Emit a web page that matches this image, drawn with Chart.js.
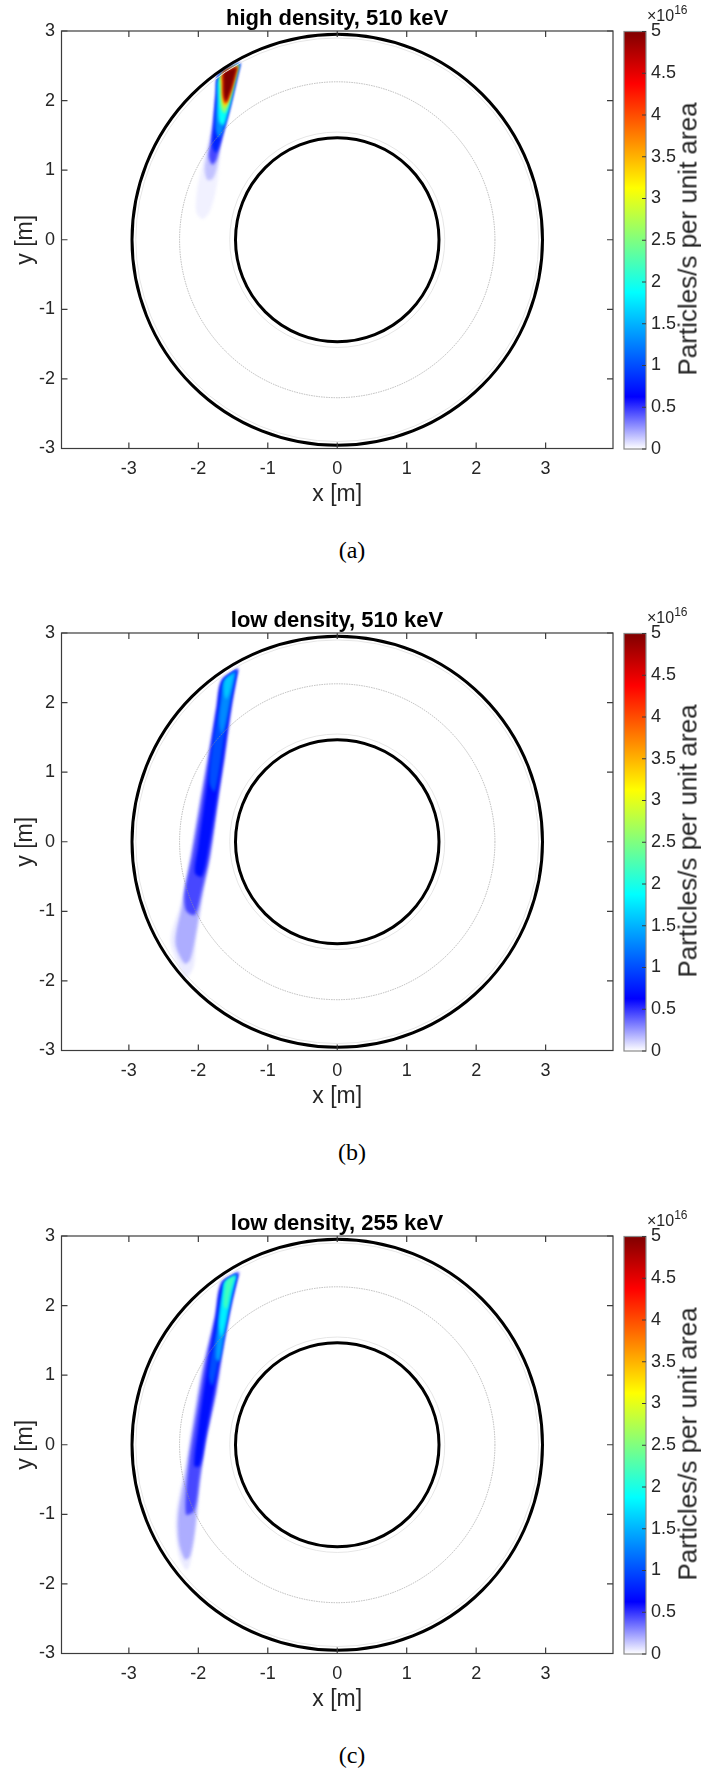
<!DOCTYPE html>
<html>
<head>
<meta charset="utf-8">
<script src="https://cdn.jsdelivr.net/npm/chart.js@4.4.1/dist/chart.umd.min.js"></script>
<style>
  body { margin:0; background:#fff; width:701px; height:1769px; position:relative; overflow:hidden;
         font-family:"Liberation Sans", Arial, sans-serif; color:#262626; }
  .panel { position:absolute; left:0; width:701px; height:602px; }
  .main { position:absolute; left:0; top:0; }
  .cbar { position:absolute; left:620px; top:0; }
  .ttl { position:absolute; left:337px; top:18px; transform:translate(-50%,-50%); font-weight:bold;
         font-size:22px; white-space:nowrap; color:#000; }
  .exp { position:absolute; left:647px; top:4px; font-size:16px; white-space:nowrap; }
  .exp sup { font-size:12px; position:relative; top:-1px; }
  .cblab { position:absolute; left:688px; top:239px; transform:translate(-50%,-50%) rotate(-90deg);
           font-size:26px; white-space:nowrap; }
  .cap { position:absolute; left:352px; top:550px; transform:translate(-50%,-50%);
         font-family:"Liberation Serif", serif; font-size:24px; color:#000; }
</style>
</head>
<body>
<script>
// ---- data ----
const panelTitles = ['high density, 510 keV', 'low density, 510 keV', 'low density, 255 keV'];
const panelCaptions = ['(a)', '(b)', '(c)'];
const xTicks = [-3, -2, -1, 0, 1, 2, 3];
const yTicks = [-3, -2, -1, 0, 1, 2, 3];
const cbTicks = [0, 0.5, 1, 1.5, 2, 2.5, 3, 3.5, 4, 4.5, 5];
const xRange = [-3.97, 3.97];
const yRange = [-3, 3];
const cbRange = [0, 5];
const cbLabel = 'Particles/s per unit area';

// vessel geometry [m]
const wallRadii = [1.465, 2.955];
const midRadii = [2.27];
const haloRadii = [1.548, 2.9];

// colormap (units of 1e16)
const cmapStops = [0, 0.625, 1.875, 3.125, 4.375, 5];
const cmapRGB = [[255,255,255],[0,0,255],[0,255,255],[255,255,0],[255,0,0],[128,0,0]];

// beam density contours, [x, y] in m, one level per polygon
const levelsA = [0.035, 0.15, 0.45, 0.8, 1.3, 1.9, 2.6, 3.3, 4.1, 5.0];
const contoursA = [
  [[-1.39,2.55],[-1.47,2.2],[-1.55,1.9],[-1.63,1.6],[-1.68,1.3],[-1.71,0.95],[-1.76,0.65],[-1.84,0.4],[-1.94,0.3],[-2.03,0.4],[-2.02,0.7],[-1.96,1.0],[-1.89,1.3],[-1.82,1.6],[-1.76,1.95],[-1.73,2.25],[-1.71,2.38]],
  [[-1.39,2.55],[-1.47,2.2],[-1.55,1.88],[-1.63,1.58],[-1.69,1.3],[-1.73,1.05],[-1.79,0.88],[-1.87,0.86],[-1.91,1.02],[-1.87,1.25],[-1.82,1.5],[-1.77,1.85],[-1.74,2.2],[-1.71,2.37]],
  [[-1.395,2.545],[-1.475,2.2],[-1.555,1.87],[-1.635,1.57],[-1.70,1.3],[-1.74,1.15],[-1.80,1.08],[-1.85,1.2],[-1.82,1.4],[-1.78,1.7],[-1.74,2.15],[-1.71,2.37]],
  [[-1.40,2.54],[-1.48,2.2],[-1.56,1.86],[-1.645,1.55],[-1.70,1.35],[-1.75,1.25],[-1.80,1.35],[-1.78,1.65],[-1.74,2.1],[-1.705,2.36]],
  [[-1.405,2.535],[-1.485,2.2],[-1.565,1.85],[-1.65,1.55],[-1.71,1.47],[-1.75,1.6],[-1.735,2.0],[-1.70,2.35]],
  [[-1.41,2.53],[-1.49,2.2],[-1.57,1.86],[-1.64,1.65],[-1.70,1.7],[-1.715,2.0],[-1.69,2.34]],
  [[-1.42,2.52],[-1.50,2.2],[-1.565,1.95],[-1.62,1.82],[-1.675,1.9],[-1.685,2.15],[-1.675,2.36]],
  [[-1.425,2.51],[-1.505,2.2],[-1.57,1.98],[-1.615,1.9],[-1.655,2.0],[-1.665,2.2],[-1.66,2.38]],
  [[-1.43,2.5],[-1.51,2.2],[-1.575,2.0],[-1.61,1.95],[-1.645,2.05],[-1.65,2.25],[-1.645,2.4]],
  [[-1.435,2.49],[-1.515,2.2],[-1.58,2.02],[-1.605,1.98],[-1.635,2.08],[-1.64,2.28],[-1.63,2.41]]
];

const levelsB = [0.05, 0.2, 0.45, 0.7, 1.0, 1.3, 1.6];
const contoursB = [
  [[-1.41,2.51],[-1.51,1.95],[-1.61,1.25],[-1.70,0.65],[-1.82,-0.2],[-1.92,-0.7],[-2.03,-1.4],[-2.07,-1.8],[-2.18,-1.95],[-2.30,-1.75],[-2.40,-1.4],[-2.26,-0.9],[-2.12,-0.2],[-2.0,0.5],[-1.87,1.2],[-1.75,1.95],[-1.67,2.33]],
  [[-1.42,2.50],[-1.52,1.94],[-1.62,1.22],[-1.71,0.64],[-1.83,-0.22],[-1.93,-0.7],[-2.04,-1.35],[-2.12,-1.7],[-2.2,-1.75],[-2.33,-1.45],[-2.24,-0.94],[-2.11,-0.22],[-1.99,0.5],[-1.86,1.22],[-1.74,1.94],[-1.665,2.32]],
  [[-1.43,2.49],[-1.53,1.94],[-1.63,1.22],[-1.72,0.64],[-1.84,-0.2],[-1.95,-0.7],[-2.05,-1.05],[-2.17,-1.0],[-2.20,-0.75],[-2.09,-0.2],[-1.97,0.5],[-1.85,1.22],[-1.73,1.94],[-1.66,2.32]],
  [[-1.44,2.48],[-1.54,1.94],[-1.64,1.22],[-1.73,0.62],[-1.86,-0.15],[-1.95,-0.5],[-2.05,-0.45],[-2.0,-0.05],[-1.93,0.45],[-1.83,1.15],[-1.72,1.94],[-1.65,2.31]],
  [[-1.45,2.47],[-1.55,1.95],[-1.64,1.4],[-1.71,0.95],[-1.77,0.72],[-1.84,0.85],[-1.80,1.35],[-1.70,1.95],[-1.64,2.3]],
  [[-1.46,2.46],[-1.55,2.0],[-1.62,1.65],[-1.67,1.55],[-1.70,1.75],[-1.66,2.1],[-1.63,2.3]],
  [[-1.48,2.43],[-1.55,2.15],[-1.60,2.05],[-1.63,2.15],[-1.615,2.33]]
];

const levelsC = [0.05, 0.2, 0.45, 0.7, 1.0, 1.4, 1.8, 2.2];
const contoursC = [
  [[-1.40,2.50],[-1.51,2.02],[-1.63,1.40],[-1.725,0.78],[-1.87,0.11],[-1.965,-0.51],[-2.04,-1.23],[-2.11,-1.68],[-2.17,-1.80],[-2.28,-1.6],[-2.33,-1.05],[-2.19,-0.3],[-2.03,0.65],[-1.94,1.13],[-1.77,1.85],[-1.67,2.36]],
  [[-1.41,2.49],[-1.52,2.02],[-1.64,1.40],[-1.735,0.78],[-1.88,0.11],[-1.976,-0.51],[-2.05,-1.23],[-2.12,-1.6],[-2.19,-1.65],[-2.28,-1.4],[-2.29,-1.0],[-2.17,-0.3],[-2.02,0.65],[-1.93,1.13],[-1.76,1.85],[-1.665,2.35]],
  [[-1.42,2.48],[-1.53,2.02],[-1.65,1.40],[-1.75,0.78],[-1.89,0.11],[-1.98,-0.45],[-2.06,-0.95],[-2.18,-1.0],[-2.14,-0.3],[-2.0,0.6],[-1.91,1.13],[-1.75,1.85],[-1.66,2.33]],
  [[-1.43,2.47],[-1.54,2.02],[-1.66,1.40],[-1.77,0.78],[-1.90,0.1],[-1.98,-0.3],[-2.06,-0.3],[-2.0,0.25],[-1.89,1.0],[-1.74,1.85],[-1.65,2.32]],
  [[-1.44,2.46],[-1.55,2.0],[-1.66,1.5],[-1.74,1.05],[-1.80,0.85],[-1.85,1.0],[-1.75,1.65],[-1.64,2.3]],
  [[-1.45,2.45],[-1.54,2.05],[-1.63,1.55],[-1.70,1.2],[-1.75,1.25],[-1.71,1.7],[-1.64,2.2],[-1.625,2.33]],
  [[-1.455,2.445],[-1.54,2.1],[-1.62,1.7],[-1.67,1.55],[-1.70,1.75],[-1.64,2.25],[-1.615,2.34]],
  [[-1.465,2.435],[-1.54,2.2],[-1.595,1.95],[-1.635,2.0],[-1.615,2.28],[-1.595,2.36]]
];

const beamLevels = [levelsA, levelsB, levelsC];
const beamContours = [contoursA, contoursB, contoursC];

// ---- layout ----
const panelTops = [0, 602, 1205];
const axisColor = '#262626';
const tickFont = {size: 18};
const labelFont = {size: 23};

Chart.defaults.font.family = '"Liberation Sans", Arial, sans-serif';
Chart.defaults.color = axisColor;

function cmap(v) {
  for (let i = 1; i < cmapStops.length; i++) {
    if (v <= cmapStops[i]) {
      const t = (v - cmapStops[i-1]) / (cmapStops[i] - cmapStops[i-1]);
      const a = cmapRGB[i-1], b = cmapRGB[i];
      return 'rgb(' + a.map((c, k) => Math.round(c + (b[k] - c) * t)).join(',') + ')';
    }
  }
  return 'rgb(' + cmapRGB[cmapRGB.length-1].join(',') + ')';
}

const blurPlugin = {
  id: 'blur',
  beforeDatasetsDraw(chart) { chart.ctx.save(); chart.ctx.filter = 'blur(1.8px)'; },
  afterDatasetsDraw(chart) { chart.ctx.restore(); }
};

const ringsPlugin = {
  id: 'rings',
  afterDatasetsDraw(chart) {
    const {ctx, chartArea: a, scales: {x, y}} = chart;
    const cx = x.getPixelForValue(0), cy = y.getPixelForValue(0);
    const ring = (r, color, lw, dash) => {
      const rx = x.getPixelForValue(r) - cx, ry = cy - y.getPixelForValue(r);
      ctx.beginPath();
      ctx.setLineDash(dash || []);
      ctx.strokeStyle = color;
      ctx.lineWidth = lw;
      ctx.ellipse(cx, cy, rx, ry, 0, 0, Math.PI * 2);
      ctx.stroke();
    };
    ctx.save();
    ctx.beginPath();
    ctx.rect(a.left, a.top, a.width, a.height);
    ctx.clip();
    haloRadii.forEach(r => ring(r, '#e6e6e6', 1));
    midRadii.forEach(r => ring(r, 'rgba(150,150,150,0.8)', 0.8, [1.5, 1]));
    wallRadii.forEach(r => ring(r, '#000', 3));
    ctx.restore();
  }
};

const framePlugin = {
  id: 'frame',
  afterDraw(chart) {
    const {ctx, chartArea: a, scales: {x, y}} = chart;
    const tl = 6;
    ctx.save();
    ctx.strokeStyle = '#3c3c3c';
    ctx.lineWidth = 1.2;
    ctx.strokeRect(a.left, a.top, a.width, a.height);
    ctx.beginPath();
    xTicks.forEach(v => {
      const px = x.getPixelForValue(v);
      ctx.moveTo(px, a.bottom); ctx.lineTo(px, a.bottom - tl);
      ctx.moveTo(px, a.top); ctx.lineTo(px, a.top + tl);
    });
    yTicks.forEach(v => {
      const py = y.getPixelForValue(v);
      ctx.moveTo(a.left, py); ctx.lineTo(a.left + tl, py);
      ctx.moveTo(a.right, py); ctx.lineTo(a.right - tl, py);
    });
    ctx.stroke();
    ctx.restore();
  }
};

const cbFramePlugin = {
  id: 'cbframe',
  afterDraw(chart) {
    const {ctx, chartArea: a, scales: {y}} = chart;
    ctx.save();
    ctx.strokeStyle = '#8a8a8a';
    ctx.lineWidth = 1.2;
    ctx.strokeRect(a.left, a.top, a.width, a.height);
    ctx.strokeStyle = '#3c3c3c';
    ctx.lineWidth = 1;
    ctx.beginPath();
    cbTicks.forEach(v => {
      const py = y.getPixelForValue(v);
      ctx.moveTo(a.right, py); ctx.lineTo(a.right - 4, py);
    });
    ctx.stroke();
    ctx.restore();
  }
};

function makePanel(i) {
  const panel = document.createElement('div');
  panel.className = 'panel';
  panel.style.top = panelTops[i] + 'px';
  document.body.appendChild(panel);

  const mainCanvas = document.createElement('canvas');
  mainCanvas.className = 'main';
  mainCanvas.width = 620; mainCanvas.height = 520;
  panel.appendChild(mainCanvas);

  const cbCanvas = document.createElement('canvas');
  cbCanvas.className = 'cbar';
  cbCanvas.width = 81; cbCanvas.height = 520;
  panel.appendChild(cbCanvas);

  const addText = (cls, html) => {
    const d = document.createElement('div');
    d.className = cls;
    d.innerHTML = html;
    panel.appendChild(d);
  };
  addText('ttl', panelTitles[i]);
  addText('exp', '&times;10<sup>16</sup>');
  addText('cblab', cbLabel);
  addText('cap', panelCaptions[i]);

  const levels = beamLevels[i];
  const datasets = beamContours[i].map((poly, k) => ({
    data: poly.concat([poly[0]]).map(([px, py]) => ({x: px, y: py})),
    backgroundColor: cmap(levels[k]),
    borderColor: 'rgba(0,0,0,0)',
    borderWidth: 1,
    pointRadius: 0,
    fill: 'shape',
    tension: 0.3,
    order: levels.length - k
  }));

  new Chart(mainCanvas, {
    type: 'line',
    data: {datasets},
    options: {
      responsive: false,
      animation: false,
      devicePixelRatio: 1,
      layout: {padding: {top: 31, right: 7, left: 0, bottom: 0}},
      plugins: {legend: {display: false}, tooltip: {enabled: false}},
      scales: {
        x: {
          type: 'linear', min: xRange[0], max: xRange[1],
          afterBuildTicks: s => { s.ticks = xTicks.map(v => ({value: v})); },
          afterFit: s => { s.height = 71.5; },
          grid: {display: false, drawTicks: false}, border: {display: false},
          ticks: {padding: 10, font: tickFont, color: axisColor, callback: v => String(v), maxRotation: 0, autoSkip: false},
          title: {display: true, text: 'x [m]', font: labelFont, color: axisColor, padding: {top: 0, bottom: 11.5}}
        },
        y: {
          type: 'linear', min: yRange[0], max: yRange[1],
          afterBuildTicks: s => { s.ticks = yTicks.map(v => ({value: v})); },
          afterFit: s => { s.width = 61.5; },
          grid: {display: false, drawTicks: false}, border: {display: false},
          ticks: {padding: 6.5, font: tickFont, color: axisColor, callback: v => String(v), autoSkip: false},
          title: {display: true, text: 'y [m]', font: labelFont, color: axisColor, padding: {top: 12, bottom: 0}}
        }
      }
    },
    plugins: [blurPlugin, ringsPlugin, framePlugin]
  });

  new Chart(cbCanvas, {
    type: 'bar',
    data: {
      labels: [''],
      datasets: [{
        data: [[cbRange[0], cbRange[1]]],
        barPercentage: 1,
        categoryPercentage: 1,
        borderWidth: 0,
        backgroundColor: ctx => {
          const area = ctx.chart.chartArea;
          if (!area) return cmap(2.5);
          const g = ctx.chart.ctx.createLinearGradient(0, area.bottom, 0, area.top);
          cmapStops.forEach((s, k) => g.addColorStop(s / cbRange[1], 'rgb(' + cmapRGB[k].join(',') + ')'));
          return g;
        }
      }]
    },
    options: {
      responsive: false,
      animation: false,
      devicePixelRatio: 1,
      layout: {padding: {top: 31.5, right: 0, left: 4, bottom: 71}},
      plugins: {legend: {display: false}, tooltip: {enabled: false}},
      scales: {
        x: {display: false},
        y: {
          position: 'right', min: cbRange[0], max: cbRange[1],
          afterBuildTicks: s => { s.ticks = cbTicks.map(v => ({value: v})); },
          afterFit: s => { s.width = 55; },
          grid: {display: false, drawTicks: false}, border: {display: false},
          ticks: {padding: 5, font: tickFont, color: axisColor, callback: v => String(v), autoSkip: false}
        }
      }
    },
    plugins: [cbFramePlugin]
  });
}

for (let i = 0; i < 3; i++) makePanel(i);
</script>
</body>
</html>
